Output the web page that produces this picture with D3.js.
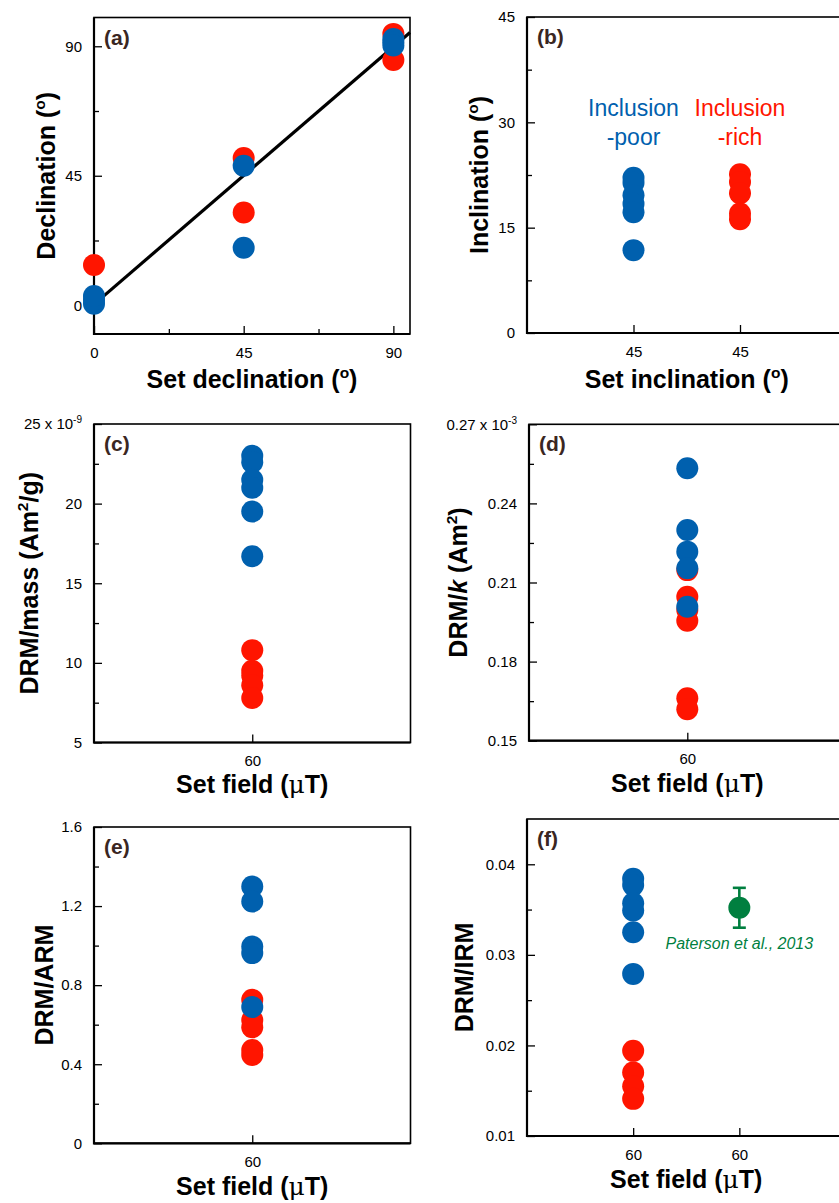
<!DOCTYPE html>
<html>
<head>
<meta charset="utf-8">
<script src="https://cdn.jsdelivr.net/npm/d3@7"></script>
<style>
  body { margin: 0; background: #fff; }
  svg { display: block; font-family: "Liberation Sans", Arial, Helvetica, sans-serif; }
</style>
</head>
<body>
<script>
// colours
const RED = "#ff1500";
const BLUE = "#0060ae";
const GREEN = "#007f3f";
const LETTER = "#3a2622";

// (a) declination
const declRichX = [0, 45, 45, 90, 90];
const declRichY = [14, 51.2, 32.2, 94.3, 85.2];
const declPoorX = [0, 0, 0, 45, 45, 90, 90, 90];
const declPoorY = [0.5, 1.8, 3.2, 48.5, 20, 92.5, 91.4, 90.3];
const fitX = [0, 95];
const fitY = [0.3, 94.8];

// (b) inclination
const inclPoor = [22.1, 21.4, 19.6, 18.4, 17.2, 11.8];
const inclRich = [22.6, 21.5, 19.9, 17.0, 16.2];

// (c) DRM/mass (x 1e-9)
const massPoor = [23.0, 22.6, 21.5, 21.0, 19.5, 16.7];
const massRich = [10.8, 9.5, 9.2, 8.6, 7.8];

// (d) DRM/k (x 1e-3)
const kPoor = [0.2533, 0.2299, 0.2217, 0.2154, 0.2008];
const kRich = [0.2147, 0.2046, 0.1996, 0.1955, 0.1661, 0.1619];

// (e) DRM/ARM
const armPoor = [1.299, 1.223, 0.995, 0.962, 0.689];
const armRich = [0.726, 0.624, 0.587, 0.472, 0.447];

// (f) DRM/IRM
const irmPoor = [0.0384, 0.0377, 0.0357, 0.0349, 0.0325, 0.0279];
const irmRich = [0.0194, 0.0170, 0.0155, 0.0141];
const patersonVal = 0.0352;
const patersonErr = 0.0022;

// tick values / labels
const declTicks = [0, 45, 90];
const declMinor = [22.5, 67.5];
const inclTicks = [0, 15, 30, 45];
const inclMinor = [7.5, 22.5, 37.5];
const massTicks = [5, 10, 15, 20, 25];
const massMinor = [7.5, 12.5, 17.5, 22.5];
const kTicks = [0.15, 0.18, 0.21, 0.24, 0.27];
const kMinor = [0.165, 0.195, 0.225, 0.255];
const armTicks = [0, 0.4, 0.8, 1.2, 1.6];
const armMinor = [0.2, 0.6, 1.0, 1.4];
const irmTicks = [0.01, 0.02, 0.03, 0.04];
const irmMinor = [0.015, 0.025, 0.035];

const TITLE = 25;

const svg = d3.select("body").append("svg")
    .attr("width", 839)
    .attr("height", 1203);

// write text made of pieces, some raised, italic or plain
function richText(sel, segs, size) {
    let raised = 0;
    segs.forEach(s => {
        const t = sel.append("tspan").text(s.t);
        if (s.sup) {
            t.attr("font-size", size * 0.62).attr("dy", -size * 0.4 - raised);
            raised = -size * 0.4;
        } else if (raised !== 0) {
            t.attr("dy", -raised);
            raised = 0;
        }
        if (s.it) t.attr("font-style", "italic");
        if (s.plain) t.attr("font-weight", "normal").attr("font-family", "DejaVu Serif, serif");
    });
}

function styleAxis(g) {
    g.select(".domain").remove();
    g.selectAll("line").attr("stroke", "#000").attr("stroke-width", 1.3);
    g.attr("font-family", null).attr("font-size", 15);
    g.selectAll("text").attr("fill", "#000");
}

function panel(p) {
    const g = svg.append("g").attr("transform", `translate(${p.left},${p.top})`);
    const x = p.x.range([0, p.w]);
    const y = d3.scaleLinear().domain(p.yDomain).range([p.h, 0]);

    // y axis, ticks pointing in
    g.append("g")
        .call(d3.axisLeft(y).tickValues(p.yMinor).tickSize(-5).tickFormat(""))
        .call(styleAxis);
    const yAx = g.append("g")
        .call(d3.axisLeft(y).tickValues(p.yTicks).tickSize(-8).tickPadding(12)
            .tickFormat(d => p.yLabels[p.yTicks.indexOf(d)]))
        .call(styleAxis);
    if (p.yTopSup) {
        const top = p.yTicks[p.yTicks.length - 1];
        yAx.selectAll(".tick text").filter(d => d === top)
            .append("tspan").attr("font-size", 10).attr("dy", -6).text(p.yTopSup);
    }

    // x axis
    if (p.xMinor) {
        g.append("g").attr("transform", `translate(0,${p.h})`)
            .call(d3.axisBottom(x).tickValues(p.xMinor).tickSize(-5).tickFormat(""))
            .call(styleAxis);
    }
    g.append("g").attr("transform", `translate(0,${p.h})`)
        .call(d3.axisBottom(x).tickValues(p.xTicks).tickSize(-8).tickPadding(13)
            .tickFormat(d => p.xLabels[p.xTicks.indexOf(d)]))
        .call(styleAxis);

    // frame
    g.append("rect").attr("width", p.w).attr("height", p.h)
        .attr("fill", "none").attr("stroke", "#000").attr("stroke-width", 1.6);
    g.append("path")
        .attr("d", `M0,0V${p.h}H${p.w}`)
        .attr("fill", "none").attr("stroke", "#000").attr("stroke-width", 2.2);

    // titles
    const yt = g.append("text")
        .attr("transform", `translate(${p.yTitleX},${p.h / 2}) rotate(-90)`)
        .attr("text-anchor", "middle")
        .attr("font-size", TITLE).attr("font-weight", "bold");
    richText(yt, p.yTitle, TITLE);
    const xt = g.append("text")
        .attr("x", p.w / 2).attr("y", p.h + p.xTitleDy)
        .attr("text-anchor", "middle")
        .attr("font-size", TITLE).attr("font-weight", "bold");
    richText(xt, p.xTitle, TITLE);

    g.append("text")
        .attr("x", 10).attr("y", 27)
        .attr("font-size", 21).attr("font-weight", "bold")
        .attr("fill", LETTER)
        .text(p.letter);

    return { g, x, y };
}

function dots(g, xs, ys, color) {
    g.append("g").selectAll("circle")
        .data(ys)
        .join("circle")
        .attr("cx", (d, i) => xs(i))
        .attr("cy", d => d)
        .attr("r", 11)
        .attr("fill", color);
}

const degTitle = name => [{ t: name + " (" }, { t: "o", sup: true }, { t: ")" }];
const fieldTitle = [{ t: "Set field (" }, { t: "\u03bc", plain: true }, { t: "T)" }];

// ---- (a)
const pa = panel({
    left: 94, top: 17.5, w: 316, h: 316.5,
    x: d3.scaleLinear().domain([0, 95]),
    xTicks: declTicks, xLabels: ["0", "45", "90"], xMinor: declMinor,
    yDomain: [-10, 100], yTicks: declTicks, yLabels: ["0", "45", "90"], yMinor: declMinor,
    yTitle: degTitle("Declination"), yTitleX: -39,
    xTitle: degTitle("Set declination"), xTitleDy: 54,
    letter: "(a)"
});
pa.g.append("path")
    .datum(fitX.map((v, i) => [v, fitY[i]]))
    .attr("d", d3.line().x(d => pa.x(d[0])).y(d => pa.y(d[1])))
    .attr("stroke", "#000").attr("stroke-width", 3.2).attr("fill", "none");
dots(pa.g, i => pa.x(declRichX[i]), declRichY.map(pa.y), RED);
dots(pa.g, i => pa.x(declPoorX[i]), declPoorY.map(pa.y), BLUE);

// ---- (b)
const pb = panel({
    left: 527, top: 17, w: 319.5, h: 316,
    x: d3.scalePoint().domain(["poor", "rich"]).padding(1),
    xTicks: ["poor", "rich"], xLabels: ["45", "45"],
    yDomain: [0, 45], yTicks: inclTicks, yLabels: ["0", "15", "30", "45"], yMinor: inclMinor,
    yTitle: degTitle("Inclination"), yTitleX: -39,
    xTitle: degTitle("Set inclination"), xTitleDy: 55,
    letter: "(b)"
});
[["poor", BLUE, "Inclusion", "-poor"], ["rich", RED, "Inclusion", "-rich"]].forEach(([k, c, l1, l2]) => {
    const t = pb.g.append("text").attr("text-anchor", "middle").attr("font-size", 23).attr("fill", c);
    t.append("tspan").attr("x", pb.x(k)).attr("y", 99).text(l1);
    t.append("tspan").attr("x", pb.x(k)).attr("y", 128).text(l2);
});
dots(pb.g, () => pb.x("rich"), inclRich.map(pb.y), RED);
dots(pb.g, () => pb.x("poor"), inclPoor.map(pb.y), BLUE);

// ---- (c)
const pc = panel({
    left: 94, top: 424, w: 316.5, h: 318.5,
    x: d3.scalePoint().domain(["60"]).padding(1),
    xTicks: ["60"], xLabels: ["60"],
    yDomain: [5, 25], yTicks: massTicks, yLabels: ["5", "10", "15", "20", "25 x 10"], yMinor: massMinor,
    yTopSup: "-9",
    yTitle: [{ t: "DRM/mass (Am" }, { t: "2", sup: true }, { t: "/g)" }], yTitleX: -56,
    xTitle: fieldTitle, xTitleDy: 50,
    letter: "(c)"
});
dots(pc.g, () => pc.x("60"), massRich.map(pc.y), RED);
dots(pc.g, () => pc.x("60"), massPoor.map(pc.y), BLUE);

// ---- (d)
const pd = panel({
    left: 529, top: 424.3, w: 316.6, h: 316.4,
    x: d3.scalePoint().domain(["60"]).padding(1),
    xTicks: ["60"], xLabels: ["60"],
    yDomain: [0.15, 0.27], yTicks: kTicks, yLabels: ["0.15", "0.18", "0.21", "0.24", "0.27 x 10"], yMinor: kMinor,
    yTopSup: "-3",
    yTitle: [{ t: "DRM/" }, { t: "k", it: true }, { t: " (Am" }, { t: "2", sup: true }, { t: ")" }], yTitleX: -62,
    xTitle: fieldTitle, xTitleDy: 51,
    letter: "(d)"
});
dots(pd.g, () => pd.x("60"), kRich.map(pd.y), RED);
dots(pd.g, () => pd.x("60"), kPoor.map(pd.y), BLUE);

// ---- (e)
const pe = panel({
    left: 94, top: 827, w: 316.5, h: 316.3,
    x: d3.scalePoint().domain(["60"]).padding(1),
    xTicks: ["60"], xLabels: ["60"],
    yDomain: [0, 1.6], yTicks: armTicks, yLabels: ["0", "0.4", "0.8", "1.2", "1.6"], yMinor: armMinor,
    yTitle: [{ t: "DRM/ARM" }], yTitleX: -41,
    xTitle: fieldTitle, xTitleDy: 52,
    letter: "(e)"
});
dots(pe.g, () => pe.x("60"), armRich.map(pe.y), RED);
dots(pe.g, () => pe.x("60"), armPoor.map(pe.y), BLUE);

// ---- (f)
const pf = panel({
    left: 527, top: 819, w: 318.5, h: 317,
    x: d3.scalePoint().domain(["this", "paterson"]).padding(1),
    xTicks: ["this", "paterson"], xLabels: ["60", "60"],
    yDomain: [0.01, 0.045], yTicks: irmTicks, yLabels: ["0.01", "0.02", "0.03", "0.04"], yMinor: irmMinor,
    yTitle: [{ t: "DRM/IRM" }], yTitleX: -54,
    xTitle: fieldTitle, xTitleDy: 52,
    letter: "(f)"
});
dots(pf.g, () => pf.x("this"), irmRich.map(pf.y), RED);
dots(pf.g, () => pf.x("this"), irmPoor.map(pf.y), BLUE);

const px = pf.x("paterson");
const err = pf.g.append("g").attr("stroke", GREEN).attr("stroke-width", 2.6);
err.append("line").attr("x1", px).attr("x2", px)
    .attr("y1", pf.y(patersonVal - patersonErr)).attr("y2", pf.y(patersonVal + patersonErr));
[patersonVal - patersonErr, patersonVal + patersonErr].forEach(v => {
    err.append("line").attr("x1", px - 6.5).attr("x2", px + 6.5)
        .attr("y1", pf.y(v)).attr("y2", pf.y(v));
});
pf.g.append("circle").attr("cx", px).attr("cy", pf.y(patersonVal)).attr("r", 11).attr("fill", GREEN);
pf.g.append("text")
    .attr("x", px).attr("y", pf.y(patersonVal) + 41)
    .attr("text-anchor", "middle")
    .attr("font-size", 16).attr("font-style", "italic")
    .attr("fill", GREEN)
    .text("Paterson et al., 2013");
</script>
</body>
</html>
